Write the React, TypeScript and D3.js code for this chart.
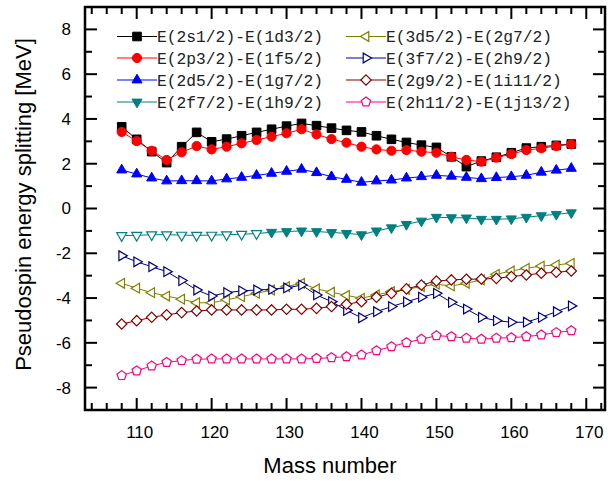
import React from "react";
import * as d3 from "d3";

// mass numbers 108..168
const massNumbers = [108, 110, 112, 114, 116, 118, 120, 122, 124, 126, 128, 130, 132, 134, 136, 138, 140, 142, 144, 146, 148, 150, 152, 154, 156, 158, 160, 162, 164, 166, 168];

const s1d3 = [3.65, 3.09, 2.54, 2.05, 2.76, 3.4, 2.98, 3.1, 3.25, 3.4, 3.54, 3.68, 3.8, 3.7, 3.59, 3.49, 3.42, 3.25, 3.09, 2.95, 2.83, 2.73, 2.31, 1.87, 2.12, 2.29, 2.49, 2.7, 2.76, 2.82, 2.88];
const p3f5 = [3.42, 3.01, 2.58, 2.17, 2.51, 2.79, 2.64, 2.76, 2.91, 3.06, 3.21, 3.36, 3.54, 3.31, 3.1, 2.94, 2.76, 2.64, 2.58, 2.61, 2.54, 2.49, 2.31, 2.17, 2.09, 2.27, 2.43, 2.61, 2.69, 2.79, 2.87];
const d5g7 = [1.72, 1.54, 1.36, 1.23, 1.24, 1.24, 1.23, 1.32, 1.39, 1.48, 1.57, 1.66, 1.75, 1.6, 1.42, 1.3, 1.17, 1.23, 1.27, 1.36, 1.42, 1.48, 1.44, 1.39, 1.33, 1.38, 1.42, 1.48, 1.62, 1.71, 1.79];
const f7h9 = [-1.21, -1.2, -1.17, -1.17, -1.19, -1.2, -1.19, -1.17, -1.15, -1.12, -1.06, -1.03, -1.0, -1.03, -1.07, -1.11, -1.17, -1.0, -0.86, -0.71, -0.56, -0.39, -0.41, -0.42, -0.48, -0.48, -0.46, -0.39, -0.32, -0.26, -0.19];
const d5g7b = [-3.34, -3.56, -3.76, -3.91, -4.05, -4.21, -4.21, -4.08, -3.94, -3.79, -3.64, -3.49, -3.34, -3.59, -3.74, -3.88, -4.01, -3.86, -3.71, -3.61, -3.49, -3.38, -3.46, -3.34, -3.19, -2.94, -2.79, -2.67, -2.57, -2.52, -2.45];
const f7h9b = [-2.11, -2.38, -2.6, -2.82, -3.22, -3.64, -3.91, -3.76, -3.68, -3.64, -3.61, -3.55, -3.42, -3.86, -4.16, -4.55, -4.88, -4.61, -4.38, -4.17, -3.96, -3.79, -4.19, -4.49, -4.86, -5.01, -5.08, -5.08, -4.86, -4.61, -4.35];
const g9i11 = [-5.16, -5.01, -4.86, -4.75, -4.65, -4.58, -4.53, -4.53, -4.53, -4.53, -4.53, -4.5, -4.5, -4.46, -4.38, -4.28, -4.16, -3.96, -3.79, -3.59, -3.42, -3.24, -3.19, -3.16, -3.15, -3.12, -3.04, -2.97, -2.89, -2.85, -2.79];
const h11j13 = [-7.46, -7.25, -7.03, -6.87, -6.79, -6.73, -6.72, -6.72, -6.72, -6.72, -6.72, -6.72, -6.72, -6.7, -6.66, -6.62, -6.54, -6.35, -6.17, -5.99, -5.84, -5.68, -5.72, -5.79, -5.84, -5.79, -5.77, -5.72, -5.65, -5.54, -5.46];

const seriesLabels = ["E(2s1/2)-E(1d3/2)", "E(2p3/2)-E(1f5/2)", "E(2d5/2)-E(1g7/2)", "E(2f7/2)-E(1h9/2)", "E(3d5/2)-E(2g7/2)", "E(3f7/2)-E(2h9/2)", "E(2g9/2)-E(1i11/2)", "E(2h11/2)-E(1j13/2)"];
const seriesValues = [s1d3, p3f5, d5g7, f7h9, d5g7b, f7h9b, g9i11, h11j13];
const seriesColors = ["#000000", "#ff0000", "#0000ff", "#008080", "#808000", "#000080", "#800000", "#ff0080"];
const seriesShapes = ["square", "circle", "up", "down", "left", "right", "diamond", "pentagon"];
const seriesFilled = [true, true, true, true, false, false, false, false];
// teal points below this mass number are drawn hollow
const tealHollowBefore = 128;

const xTicks = [110, 120, 130, 140, 150, 160, 170];
const yTicks = [-8, -6, -4, -2, 0, 2, 4, 6, 8];

const W = 611;
const H = 481;
const left = 85, right = 605, top = 7, bottom = 410;

function markerPath(shape: string): string {
  const tri = (angle: number, r: number) => {
    const pts = [0, 1, 2].map((i) => {
      const a = angle + (i * 2 * Math.PI) / 3;
      return [r * Math.cos(a), r * Math.sin(a)];
    });
    return "M" + pts.map((p) => p.join(",")).join("L") + "Z";
  };
  switch (shape) {
    case "square":
      return "M-4.3,-4.3L4.3,-4.3L4.3,4.3L-4.3,4.3Z";
    case "circle":
      return d3.symbol(d3.symbolCircle, Math.PI * 4.6 * 4.6)() as string;
    case "up":
      return tri(-Math.PI / 2, 5.8);
    case "down":
      return tri(Math.PI / 2, 5.8);
    case "left":
      return tri(Math.PI, 5.6);
    case "right":
      return tri(0, 5.6);
    case "diamond":
      return "M0,-5.2L5.2,0L0,5.2L-5.2,0Z";
    default: {
      const pts = d3.range(5).map((i) => {
        const a = -Math.PI / 2 + (i * 2 * Math.PI) / 5;
        return [4.9 * Math.cos(a), 4.9 * Math.sin(a)];
      });
      return "M" + pts.map((p) => p.join(",")).join("L") + "Z";
    }
  }
}

export default function App() {
  const x = d3.scaleLinear().domain([103.1, 172.5]).range([left, right]);
  const y = d3.scaleLinear().domain([-9, 9]).range([bottom, top]);
  const line = d3
    .line<number>()
    .x((_, i) => x(massNumbers[i]))
    .y((d) => y(d));

  const xMinor = d3.range(104, 173, 2).filter((v) => v % 10 !== 0);
  const yMinor = d3.range(-9, 10, 1).filter((v) => v % 2 !== 0);
  const maj = 12, min = 7;

  const legendRows = [36.5, 58, 80, 102];
  const legendCols = [117, 346];

  return (
    <svg width={W} height={H} style={{ position: "absolute", left: 0, top: 0, background: "#fff" }}>
      {/* series */}
      {seriesValues.map((vals, si) => (
        <g key={si}>
          <path d={line(vals) || ""} fill="none" stroke={seriesColors[si]} strokeWidth={1} />
          {vals.map((v, i) => {
            let filled = seriesFilled[si];
            if (si === 3 && massNumbers[i] < tealHollowBefore) filled = false;
            return (
              <path
                key={i}
                d={markerPath(seriesShapes[si])}
                transform={`translate(${x(massNumbers[i])},${y(v)})`}
                fill={filled ? seriesColors[si] : "#fff"}
                stroke={seriesColors[si]}
                strokeWidth={filled ? 1 : 1.2}
              />
            );
          })}
        </g>
      ))}

      {/* legend */}
      {seriesLabels.map((lab, i) => {
        const col = Math.floor(i / 4);
        const lx = legendCols[col];
        const ly = legendRows[i % 4];
        return (
          <g key={lab}>
            <line x1={lx} x2={lx + 40} y1={ly} y2={ly} stroke={seriesColors[i]} strokeWidth={1} />
            <path
              d={markerPath(seriesShapes[i])}
              transform={`translate(${lx + 20},${ly})`}
              fill={seriesFilled[i] ? seriesColors[i] : "#fff"}
              stroke={seriesColors[i]}
              strokeWidth={seriesFilled[i] ? 1 : 1.2}
            />
            <text x={lx + 40} y={ly} dy="0.36em" fontFamily="Liberation Mono" fontSize={16.3} fill="#222">
              {lab}
            </text>
          </g>
        );
      })}

      {/* frame and ticks */}
      <rect x={left} y={top} width={right - left} height={bottom - top} fill="none" stroke="#000" strokeWidth={2.5} />
      {xTicks.map((t) => (
        <g key={"x" + t}>
          <line x1={x(t)} x2={x(t)} y1={bottom} y2={bottom - maj} stroke="#000" strokeWidth={2} />
          <line x1={x(t)} x2={x(t)} y1={top} y2={top + maj} stroke="#000" strokeWidth={2} />
          <text x={x(t) + 3} y={bottom + 28} textAnchor="middle" fontFamily="Liberation Sans, Arial" fontSize={17}>
            {t}
          </text>
        </g>
      ))}
      {xMinor.map((t) => (
        <g key={"xm" + t}>
          <line x1={x(t)} x2={x(t)} y1={bottom} y2={bottom - min} stroke="#000" strokeWidth={2} />
          <line x1={x(t)} x2={x(t)} y1={top} y2={top + min} stroke="#000" strokeWidth={2} />
        </g>
      ))}
      {yTicks.map((t) => (
        <g key={"y" + t}>
          <line x1={left} x2={left + maj} y1={y(t)} y2={y(t)} stroke="#000" strokeWidth={2} />
          <line x1={right} x2={right - maj} y1={y(t)} y2={y(t)} stroke="#000" strokeWidth={2} />
          <text x={left - 14} y={y(t)} dy="0.35em" textAnchor="end" fontFamily="Liberation Sans, Arial" fontSize={17}>
            {t}
          </text>
        </g>
      ))}
      {yMinor.map((t) => (
        <g key={"ym" + t}>
          <line x1={left} x2={left + min} y1={y(t)} y2={y(t)} stroke="#000" strokeWidth={2} />
          <line x1={right} x2={right - min} y1={y(t)} y2={y(t)} stroke="#000" strokeWidth={2} />
        </g>
      ))}

      {/* axis titles */}
      <text x={330} y={473} textAnchor="middle" fontFamily="Liberation Sans, Arial" fontSize={22}>
        Mass number
      </text>
      <text
        transform={`translate(31,${(top + bottom) / 2 - 4}) rotate(-90)`}
        textAnchor="middle"
        fontFamily="Liberation Sans, Arial"
        fontSize={22}
      >
        Pseudospin energy splitting [MeV]
      </text>
    </svg>
  );
}
